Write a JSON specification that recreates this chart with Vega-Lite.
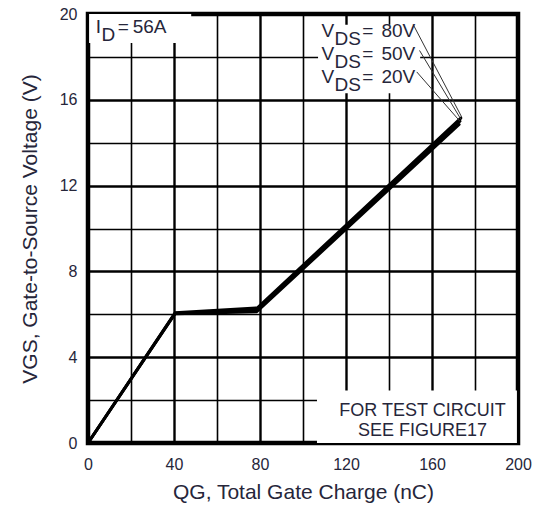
{
  "$schema": "https://vega.github.io/schema/vega-lite/v6.json",
  "width": 430,
  "height": 429,
  "autosize": {"type": "none"},
  "padding": {"left": 88, "top": 14, "right": 30, "bottom": 63},
  "background": "white",
  "config": {
    "font": "Liberation Sans",
    "view": {"stroke": "black", "strokeWidth": 4.5},
    "axis": {
      "domain": false,
      "ticks": false,
      "grid": true,
      "gridColor": "black",
      "gridOpacity": 1,
      "labelFont": "Liberation Sans",
      "labelFontSize": 16,
      "labelColor": "#26263a",
      "labelOverlap": false,
      "labelFlush": false,
      "titleFont": "Liberation Sans",
      "titleFontSize": 21,
      "titleFontWeight": "normal",
      "titleColor": "#26263a"
    }
  },
  "datasets": {
    "curves": [
      {"vds": "20V", "x": 0, "y": 0},
      {"vds": "20V", "x": 40.5, "y": 6.03},
      {"vds": "20V", "x": 78.5, "y": 6.12},
      {"vds": "20V", "x": 172.6, "y": 14.85},
      {"vds": "50V", "x": 0, "y": 0},
      {"vds": "50V", "x": 40.5, "y": 6.05},
      {"vds": "50V", "x": 78.5, "y": 6.2},
      {"vds": "50V", "x": 173.0, "y": 15.0},
      {"vds": "80V", "x": 0, "y": 0},
      {"vds": "80V", "x": 40.5, "y": 6.07},
      {"vds": "80V", "x": 78.8, "y": 6.3},
      {"vds": "80V", "x": 173.4, "y": 15.15}
    ],
    "boxes": [
      {"x": 0.5, "x2": 48, "y": 18.65, "y2": 20},
      {"x": 107, "x2": 154.5, "y": 16.3, "y2": 19.5},
      {"x": 106.5, "x2": 199.5, "y": 0, "y2": 2.45}
    ],
    "leaders": [
      {"x": 151.3, "y": 19.5, "x2": 173.8, "y2": 15.2},
      {"x": 154.2, "y": 18.3, "x2": 173.4, "y2": 15.1},
      {"x": 152.9, "y": 17.3, "x2": 173.0, "y2": 15.0}
    ],
    "mainText": [
      {"x": 3.6, "y": 19.1, "t": "I"},
      {"x": 13.8, "y": 19.1, "t": "="},
      {"x": 20.8, "y": 19.1, "t": "56A"},
      {"x": 108.6, "y": 18.94, "t": "V"},
      {"x": 127.6, "y": 18.94, "t": "="},
      {"x": 136.5, "y": 18.94, "t": "80V"},
      {"x": 108.6, "y": 17.86, "t": "V"},
      {"x": 127.6, "y": 17.86, "t": "="},
      {"x": 136.5, "y": 17.86, "t": "50V"},
      {"x": 108.6, "y": 16.77, "t": "V"},
      {"x": 127.6, "y": 16.77, "t": "="},
      {"x": 136.5, "y": 16.77, "t": "20V"}
    ],
    "subText": [
      {"x": 6.3, "y": 19.1, "t": "D"},
      {"x": 114.7, "y": 18.94, "t": "DS"},
      {"x": 114.7, "y": 17.86, "t": "DS"},
      {"x": 114.7, "y": 16.77, "t": "DS"}
    ],
    "note": [
      {"x": 155.6, "y": 1.25, "t": "FOR TEST CIRCUIT"},
      {"x": 155.6, "y": 0.32, "t": "SEE FIGURE17"}
    ]
  },
  "encoding": {
    "x": {
      "field": "x",
      "type": "quantitative",
      "scale": {"domain": [0, 200], "nice": false, "zero": false},
      "axis": {
        "values": [0, 20, 40, 60, 80, 100, 120, 140, 160, 180, 200],
        "labelExpr": "datum.value % 40 === 0 ? datum.label : ''",
        "gridWidth": {"condition": {"test": "datum.value % 40 === 0", "value": 2.4}, "value": 1.6},
        "labelPadding": 13,
        "title": "QG, Total Gate Charge (nC)",
        "titlePadding": 9
      }
    },
    "y": {
      "field": "y",
      "type": "quantitative",
      "scale": {"domain": [0, 20], "nice": false, "zero": false},
      "axis": {
        "values": [0, 2, 4, 6, 8, 10, 12, 14, 16, 18, 20],
        "labelExpr": "datum.value % 4 === 0 ? datum.label : ''",
        "gridWidth": {"condition": {"test": "datum.value % 4 === 0", "value": 2.4}, "value": 1.6},
        "labelPadding": 11,
        "title": "VGS, Gate-to-Source Voltage (V)",
        "titlePadding": 19
      }
    }
  },
  "layer": [
    {
      "data": {"name": "boxes"},
      "mark": {"type": "rect", "fill": "white", "strokeWidth": 0},
      "encoding": {"x2": {"field": "x2"}, "y2": {"field": "y2"}}
    },
    {
      "data": {"name": "curves"},
      "mark": {"type": "line", "color": "black", "strokeWidth": 3, "strokeCap": "round", "strokeJoin": "round"},
      "encoding": {"detail": {"field": "vds"}}
    },
    {
      "data": {"name": "leaders"},
      "mark": {"type": "rule", "color": "#333333", "strokeWidth": 1},
      "encoding": {"x2": {"field": "x2"}, "y2": {"field": "y2"}}
    },
    {
      "data": {"name": "mainText"},
      "mark": {"type": "text", "align": "left", "baseline": "alphabetic", "fontSize": 19, "font": "Liberation Sans", "color": "#26263a"},
      "encoding": {"text": {"field": "t"}}
    },
    {
      "data": {"name": "subText"},
      "mark": {"type": "text", "align": "left", "baseline": "alphabetic", "dy": 8, "fontSize": 19, "font": "Liberation Sans", "color": "#26263a"},
      "encoding": {"text": {"field": "t"}}
    },
    {
      "data": {"name": "note"},
      "mark": {"type": "text", "align": "center", "baseline": "alphabetic", "fontSize": 18, "font": "Liberation Sans", "color": "#26263a"},
      "encoding": {"text": {"field": "t"}}
    }
  ]
}
